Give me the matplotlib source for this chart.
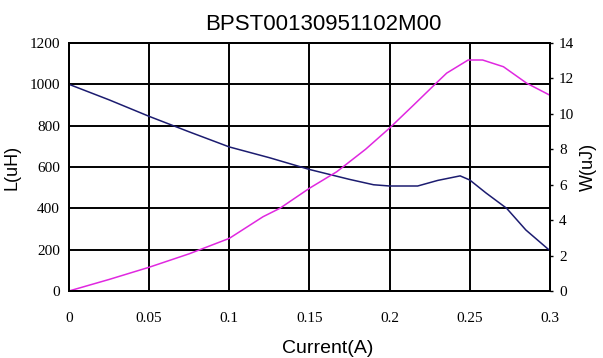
import matplotlib.pyplot as plt
import numpy as np

# inductance curve L(uH) vs current
cur_l = [0, 0.025, 0.05, 0.075, 0.1, 0.125, 0.15, 0.175, 0.19, 0.2, 0.2175,
         0.23, 0.244, 0.25, 0.26, 0.273, 0.285, 0.3]
ind_l = [1000, 925, 845, 770, 697, 645, 588, 540, 514, 508, 508,
         535, 557, 537, 475, 400, 295, 195]

# energy curve W(uJ) vs current
cur_w = [0, 0.025, 0.05, 0.075, 0.1, 0.121, 0.1316, 0.15, 0.167, 0.185, 0.2,
         0.215, 0.229, 0.2356, 0.249, 0.258, 0.271, 0.2855, 0.3]
ene_w = [0, 0.65, 1.34, 2.1, 2.97, 4.19, 4.67, 5.8, 6.73, 8.0, 9.2,
         10.5, 11.73, 12.3, 13.04, 13.04, 12.66, 11.73, 11.05]

x_ticks = [0, 0.05, 0.1, 0.15, 0.2, 0.25, 0.3]
x_labels = ['0', '0.05', '0.1', '0.15', '0.2', '0.25', '0.3']
l_ticks = np.arange(0, 1201, 200)
w_ticks = np.arange(0, 15, 2)

fig = plt.figure(figsize=(6.03, 3.58), dpi=100)
ax = fig.add_axes([0.1144, 0.1872, 0.912 - 0.1144, 0.8799 - 0.1872])
ax2 = ax.twinx()

ax.plot(cur_l, ind_l, color='#1c1c70', lw=1.1)
ax2.plot(cur_w, ene_w, color='#e028e0', lw=1.1)

ax.set_xlim(0, 0.3)
ax.set_ylim(0, 1200)
ax2.set_ylim(0, 14)

tick_font = {'family': 'Liberation Serif', 'size': 11}
ax.set_xticks(x_ticks)
ax.set_xticklabels(x_labels, fontdict=tick_font)
ax.set_yticks(l_ticks)
ax.set_yticklabels([str(v) for v in l_ticks], fontdict=tick_font)
ax2.set_yticks(w_ticks)
ax2.set_yticklabels([str(v) for v in w_ticks], fontdict=tick_font)

ax.tick_params(axis='both', length=0)
ax.tick_params(axis='y', pad=6.5)
ax.tick_params(axis='x', pad=15)
ax2.tick_params(axis='y', length=2.5, width=1, direction='out', pad=4)

# 网格线
ax.grid(True, color='black', lw=1.4)
for s in list(ax.spines.values()) + list(ax2.spines.values()):
    s.set_color('black')
    s.set_linewidth(1.4)

ax.set_title('BPST00130951102M00', fontsize=16, family='Liberation Sans',
             pad=9.4, x=0.529)
ax.set_xlabel('Current(A)', fontsize=14, family='Liberation Sans')
ax.xaxis.set_label_coords(0.537, -0.198)
ax.set_ylabel('L(uH)', fontsize=13, family='Liberation Sans')
ax.yaxis.set_label_coords(-0.0998, 0.5)
ax2.set_ylabel('W(uJ)', fontsize=13, family='Liberation Sans')
ax2.yaxis.set_label_coords(1.062, 0.5)

fig.savefig('out.png', dpi=100)
